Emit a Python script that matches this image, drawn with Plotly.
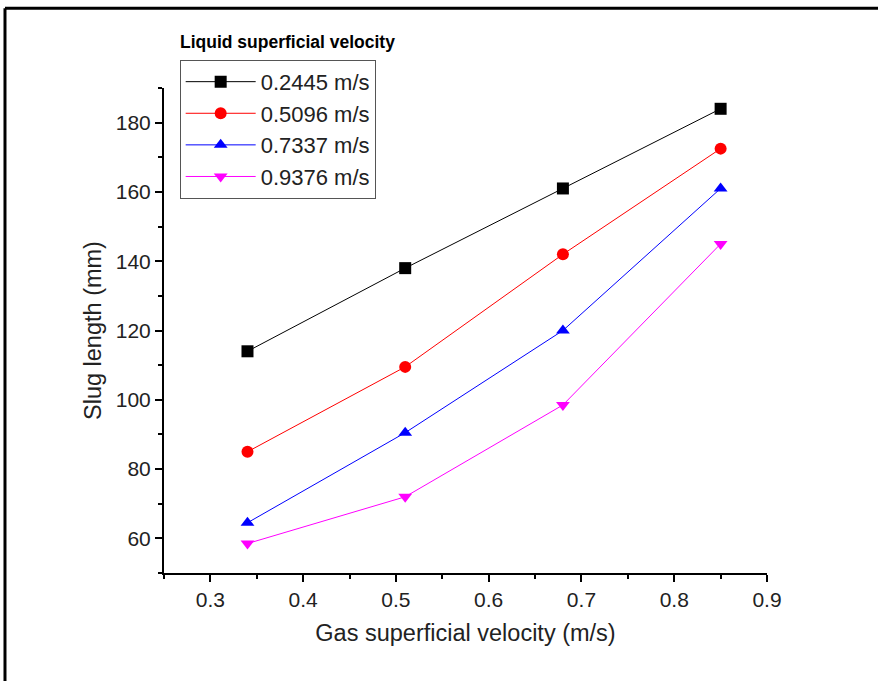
import plotly.graph_objects as go

# Gas superficial velocity (m/s)
gas_velocity = [0.34, 0.51, 0.68, 0.85]

# Slug length (mm) for each liquid superficial velocity
series_names = ["0.2445 m/s", "0.5096 m/s", "0.7337 m/s", "0.9376 m/s"]
slug_02445 = [114.0, 138.0, 161.0, 184.0]
slug_05096 = [85.0, 109.5, 142.0, 172.5]
slug_07337 = [64.5, 90.5, 120.0, 161.0]
slug_09376 = [58.5, 72.0, 98.5, 145.0]

series_values = [slug_02445, slug_05096, slug_07337, slug_09376]
colors = ["#000000", "#ff0000", "#0000ff", "#ff00ff"]
symbols = ["square", "circle", "triangle-up", "triangle-down"]

FONT = "Liberation Sans, Arial, sans-serif"

fig = go.Figure()
for name, vals, col, sym in zip(series_names, series_values, colors, symbols):
    fig.add_trace(go.Scatter(
        x=gas_velocity, y=vals, name=name, mode="lines+markers",
        line=dict(color=col, width=1),
        marker=dict(symbol=sym, size=12, color=col),
    ))

axis_common = dict(
    showgrid=False, zeroline=False, showline=True, linecolor="black", linewidth=2,
    ticks="outside", ticklen=7, tickwidth=1.5, tickcolor="black",
    tickfont=dict(family=FONT, size=21, color="#222222"),
    mirror=False,
)

fig.update_xaxes(
    range=[0.25, 0.9], tick0=0.3, dtick=0.1, tickformat=".1f",
    minor=dict(ticks="outside", ticklen=4, dtick=0.05, tick0=0.25, tickcolor="black", tickwidth=1.5),
    title=dict(text="Gas superficial velocity (m/s)", font=dict(family=FONT, size=23.5, color="#222222"), standoff=14),
    **axis_common,
)
fig.update_yaxes(
    range=[50, 190], tick0=0, dtick=20,
    minor=dict(ticks="outside", ticklen=4, dtick=10, tick0=0, tickcolor="black", tickwidth=1.5),
    title=dict(text="Slug length (mm)", font=dict(family=FONT, size=23.5, color="#222222"), standoff=8),
    **axis_common,
)

# page frame
fig.add_shape(type="line", xref="paper", yref="paper",
              x0=-0.2637, x1=1.19, y0=1.1645, y1=1.1645,
              line=dict(color="black", width=3))
fig.add_shape(type="line", xref="paper", yref="paper",
              x0=-0.2637, x1=-0.2637, y0=1.1645, y1=-0.23,
              line=dict(color="black", width=3))

fig.add_annotation(
    text="<b>Liquid superficial velocity</b>", xref="paper", yref="paper",
    x=0.023, y=1.094, xanchor="left", yanchor="middle", showarrow=False,
    font=dict(family=FONT, size=17.5, color="black"),
)

fig.update_layout(
    width=878, height=681,
    margin=dict(l=164, r=111, t=88, b=108),
    plot_bgcolor="white", paper_bgcolor="white",
    showlegend=True,
    legend=dict(
        x=0.026, y=1.058, xanchor="left", yanchor="top",
        bordercolor="#555555", borderwidth=1, bgcolor="white",
        font=dict(family=FONT, size=22, color="#222222"),
        tracegroupgap=0, itemsizing="trace", itemwidth=70,
    ),
)

fig.write_html("out.html")
